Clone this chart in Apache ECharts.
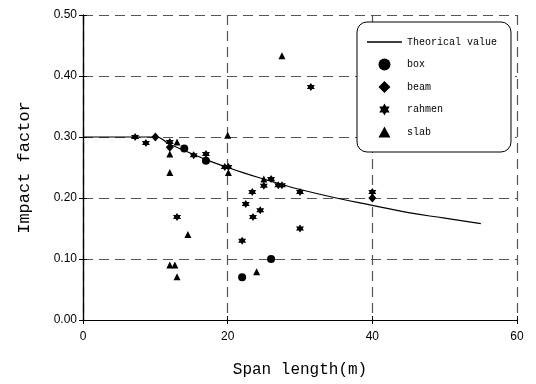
<!DOCTYPE html>
<html>
<head>
<meta charset="utf-8">
<script src="https://cdn.jsdelivr.net/npm/echarts@6/dist/echarts.min.js"></script>
<style>
  html, body { margin: 0; padding: 0; background: #fff; }
  #chart { width: 536px; height: 384px; }
</style>
</head>
<body>
<div id="chart"></div>
<script>
// theoretical curve
const theoryX = [0, 5, 10, 12, 15, 17, 20, 22, 25, 27, 30, 35, 40, 45, 50, 55]
const theoryY = [0.30, 0.30, 0.30, 0.288, 0.273, 0.263, 0.25, 0.242, 0.231, 0.224, 0.214, 0.200, 0.188, 0.176, 0.167, 0.158]

const boxPts = [[14, 0.281], [17, 0.261], [22, 0.07], [26, 0.10]]
const beamPts = [[10, 0.30], [12, 0.283], [40, 0.20]]
const rahmenPts = [
  [7.2, 0.30], [8.7, 0.29], [12, 0.292], [15.3, 0.27], [17, 0.272],
  [19.6, 0.251], [20.1, 0.251], [26, 0.231], [25, 0.22], [27, 0.221],
  [27.5, 0.221], [30, 0.21], [23.4, 0.21], [22.5, 0.19], [24.5, 0.18],
  [23.5, 0.169], [13, 0.169], [22, 0.13], [30, 0.15], [31.5, 0.382], [40, 0.21]
]
const slabPts = [
  [13, 0.292], [12, 0.272], [12, 0.242], [20, 0.303], [20.1, 0.242],
  [25, 0.231], [27.5, 0.433], [14.5, 0.14], [12, 0.09], [12.7, 0.09],
  [13, 0.071], [24, 0.079]
]

const xTicks = [0, 20, 40, 60]
const yTicks = [0, 0.1, 0.2, 0.3, 0.4, 0.5]

// six-pointed star outline
const hexagram = 'path://M0,-10 L2.887,-5 L8.66,-5 L5.774,0 L8.66,5 L2.887,5 L0,10 L-2.887,5 L-8.66,5 L-5.774,0 L-8.66,-5 L-2.887,-5 Z'

// legend icons: padded to the 35x12 item box so they are not stretched
const pad = 'M-17.5,-6 L-17.5,-6.01 Z M17.5,6 L17.5,6.01 Z '
const lineIcon = 'path://' + pad + 'M-17.5,-0.8 L17.5,-0.8 L17.5,0.8 L-17.5,0.8 Z'
const diamondIcon = 'path://' + pad + 'M0,-6 L6,0 L0,6 L-6,0 Z'
const triIcon = 'path://' + pad + 'M0,-5.5 L6,5.5 L-6,5.5 Z'
const starIcon = 'path://' + pad + 'M0,-6 L1.73,-3 L5.2,-3 L3.46,0 L5.2,3 L1.73,3 L0,6 L-1.73,3 L-5.2,3 L-3.46,0 L-5.2,-3 L-1.73,-3 Z'

const serifMono = '"Liberation Mono", "DejaVu Sans Mono", monospace'

const chart = echarts.init(document.getElementById('chart'))

const gridDash = { color: '#555', type: [10, 6], width: 1.2 }
const markStyle = { color: '#000', opacity: 1 }

chart.setOption({
  backgroundColor: '#fff',
  animation: false,
  grid: { left: 83, right: 19, top: 15, bottom: 64 },
  legend: {
    orient: 'vertical',
    left: 357,
    top: 22,
    padding: [14, 14, 14, 10],
    itemWidth: 35,
    itemHeight: 12,
    itemGap: 10.5,
    backgroundColor: '#fff',
    borderColor: '#000',
    borderWidth: 1,
    borderRadius: 10,
    itemStyle: { color: '#000', opacity: 1 },
    textStyle: { fontFamily: serifMono, fontSize: 10, color: '#000' },
    data: [
      { name: 'Theorical value', icon: lineIcon },
      { name: 'box', icon: 'circle' },
      { name: 'beam', icon: diamondIcon },
      { name: 'rahmen', icon: starIcon },
      { name: 'slab', icon: triIcon }
    ]
  },
  xAxis: [
    {
      type: 'value',
      min: xTicks[0],
      max: xTicks[xTicks.length - 1],
      interval: 20,
      name: 'Span length(m)',
      nameLocation: 'middle',
      nameGap: 42,
      nameTextStyle: { fontFamily: serifMono, fontSize: 16, color: '#000' },
      axisLine: { lineStyle: { color: '#000', width: 1.2 } },
      axisTick: { inside: true, length: 4, lineStyle: { color: '#000' } },
      axisLabel: { color: '#000', fontFamily: '"Liberation Sans", Arial', fontSize: 12, margin: 11 },
      splitLine: { show: true, lineStyle: gridDash }
    },
    {
      type: 'value', position: 'top', min: 0, max: 60, interval: 20,
      axisLine: { show: true, lineStyle: { color: '#000', width: 1.2 } },
      axisTick: { show: true, inside: true, length: 4, lineStyle: { color: '#000' } },
      axisLabel: { show: false },
      splitLine: { show: false }
    }
  ],
  yAxis: [
    {
      type: 'value',
      min: yTicks[0],
      max: yTicks[yTicks.length - 1],
      interval: 0.1,
      name: 'Impact factor',
      nameLocation: 'middle',
      nameGap: 50,
      nameTextStyle: { fontFamily: serifMono, fontSize: 17, color: '#000' },
      axisLine: { lineStyle: { color: '#000', width: 1.2 } },
      axisTick: { inside: true, length: 4, lineStyle: { color: '#000' } },
      axisLabel: {
        color: '#000', fontFamily: '"Liberation Sans", Arial', fontSize: 12, margin: 6,
        formatter: v => v.toFixed(2)
      },
      splitLine: { show: true, lineStyle: gridDash }
    },
    {
      type: 'value', position: 'right', min: 0, max: 0.5, interval: 0.1,
      axisLine: { show: true, lineStyle: { color: '#000', width: 1.2 } },
      axisTick: { show: true, inside: true, length: 4, lineStyle: { color: '#000' } },
      axisLabel: { show: false },
      splitLine: { show: false }
    }
  ],
  series: [
    {
      name: 'Theorical value',
      type: 'line',
      data: theoryX.map((x, i) => [x, theoryY[i]]),
      smooth: true,
      symbol: 'none',
      lineStyle: { color: '#000', width: 1.2 },
      itemStyle: markStyle,
      z: 3
    },
    {
      name: 'box', type: 'scatter', data: boxPts,
      symbol: 'circle', symbolSize: 8, itemStyle: markStyle, z: 4
    },
    {
      name: 'beam', type: 'scatter', data: beamPts,
      symbol: 'diamond', symbolSize: [8, 9], itemStyle: markStyle, z: 4
    },
    {
      name: 'rahmen', type: 'scatter', data: rahmenPts,
      symbol: hexagram, symbolSize: 8, itemStyle: markStyle, z: 4
    },
    {
      name: 'slab', type: 'scatter', data: slabPts,
      symbol: 'triangle', symbolSize: [7, 7], itemStyle: markStyle, z: 4
    }
  ]
})
</script>
</body>
</html>
